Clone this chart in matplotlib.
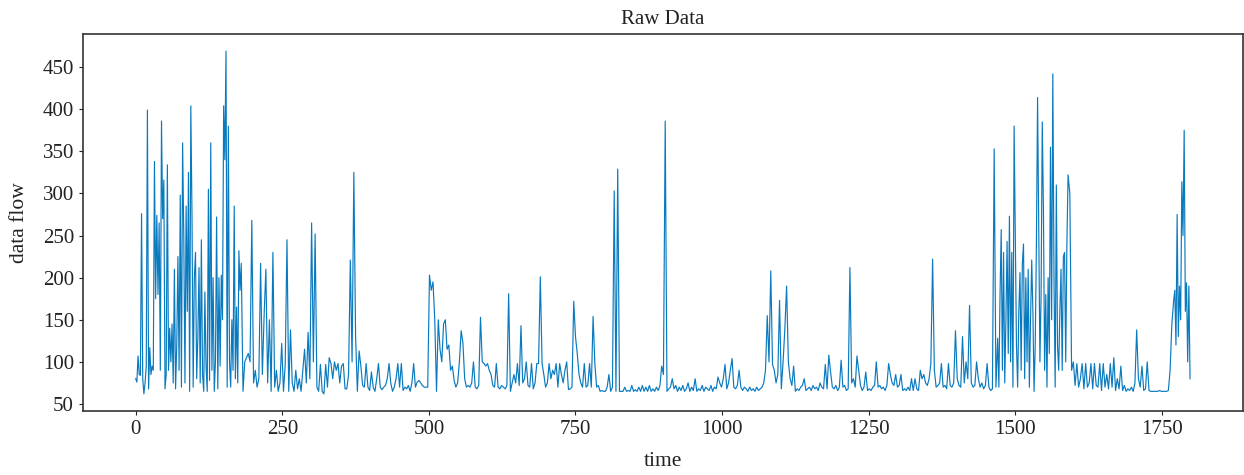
import numpy as np
import matplotlib
matplotlib.use("Agg")
import matplotlib.pyplot as plt

# data flow; denser sampling where the signal is busy
flow_early = [   # t = 0 .. 178, every 2
    80, 76, 107, 85, 84, 276, 80, 62, 75, 95,
    399, 68, 117, 85, 95, 90, 338, 175, 274, 180,
    265, 90, 386, 270, 316, 68, 85, 334, 90, 140,
    100, 145, 75, 210, 68, 120, 225, 90, 298, 70,
    360, 250, 75, 285, 160, 325, 65, 404, 275, 70,
    200, 230, 80, 130, 212, 75, 245, 85, 65, 183,
    95, 65, 305, 78, 360, 90, 200, 65, 100, 272,
    68, 200, 95, 203, 150, 404, 340, 469, 70, 380,
    100, 70, 150, 90, 285, 80, 165, 75, 232, 185,
]
flow_mid = [     # t = 180 .. 1467, every 3
    217, 65, 100, 105, 110, 100, 268, 75, 90, 70,
    80, 217, 85, 155, 210, 75, 150, 65, 230, 70,
    90, 65, 75, 122, 65, 97, 245, 65, 138, 75,
    65, 90, 68, 80, 65, 90, 115, 75, 135, 80,
    265, 100, 252, 70, 65, 97, 65, 62, 97, 70,
    105, 98, 80, 100, 90, 98, 75, 95, 98, 68,
    68, 85, 221, 100, 325, 130, 65, 113, 95, 72,
    70, 98, 70, 66, 88, 70, 65, 80, 98, 70,
    67, 70, 72, 80, 98, 75, 65, 70, 80, 98,
    70, 98, 66, 70, 68, 72, 65, 75, 98, 70,
    76, 78, 75, 72, 70, 70, 70, 203, 185, 195,
    150, 65, 150, 115, 100, 145, 150, 115, 120, 90,
    95, 78, 70, 75, 100, 137, 123, 80, 70, 72,
    70, 75, 100, 70, 68, 72, 153, 100, 98, 95,
    98, 90, 85, 72, 70, 98, 70, 68, 72, 70,
    68, 72, 181, 65, 75, 85, 75, 98, 72, 143,
    75, 80, 100, 72, 70, 98, 68, 75, 98, 98,
    201, 98, 85, 70, 75, 98, 80, 90, 85, 98,
    70, 98, 85, 75, 90, 100, 67, 68, 70, 172,
    130, 110, 85, 75, 70, 98, 70, 72, 98, 70,
    154, 98, 70, 72, 65, 66, 65, 65, 70, 85,
    65, 70, 303, 65, 329, 65, 65, 65, 70, 65,
    66, 65, 72, 65, 67, 65, 70, 65, 72, 65,
    70, 65, 72, 65, 68, 65, 70, 66, 72, 95,
    85, 386, 65, 68, 70, 80, 68, 72, 65, 70,
    66, 72, 65, 68, 75, 65, 70, 66, 80, 65,
    68, 66, 72, 65, 70, 68, 66, 72, 65, 70,
    68, 82, 75, 70, 80, 97, 68, 75, 90, 104,
    70, 68, 72, 90, 70, 66, 70, 68, 65, 70,
    66, 68, 65, 70, 66, 68, 70, 75, 90, 155,
    100, 208, 97, 90, 75, 85, 173, 68, 100, 139,
    190, 100, 80, 72, 95, 65, 68, 66, 70, 72,
    80, 66, 68, 70, 66, 72, 68, 70, 66, 75,
    70, 68, 97, 68, 108, 88, 70, 68, 72, 66,
    70, 102, 70, 72, 66, 68, 212, 75, 80, 70,
    107, 90, 72, 66, 70, 88, 66, 68, 66, 70,
    72, 100, 70, 72, 68, 70, 66, 72, 98, 85,
    75, 72, 85, 70, 72, 85, 66, 68, 66, 70,
    66, 80, 66, 80, 68, 66, 90, 80, 85, 75,
    72, 80, 98, 222, 90, 70, 72, 75, 98, 70,
    72, 68, 98, 72, 70, 75, 137, 80, 72, 70,
    130, 75, 100, 80, 167, 75, 70, 72, 100, 80,
    70, 75, 68, 72, 98, 70, 66, 68, 353, 70,
]
flow_burst = [   # t = 1470 .. 1588, every 2
    128, 70, 180, 257, 90, 230, 75, 150, 243, 110,
    273, 100, 230, 70, 380, 249, 120, 70, 160, 206,
    90, 216, 240, 80, 200, 100, 210, 70, 150, 221,
    160, 65, 120, 240, 414, 250, 100, 180, 385, 280,
    90, 180, 70, 200, 110, 355, 150, 442, 200, 70,
    310, 120, 90, 160, 210, 90, 225, 230, 100, 240,
]
flow_quiet = [   # t = 1590 .. 1767, every 3
    322, 300, 90, 100, 72, 98, 70, 80, 98, 68,
    98, 70, 75, 98, 68, 98, 72, 70, 98, 66,
    98, 70, 85, 68, 98, 70, 105, 66, 80, 68,
    95, 66, 72, 65, 68, 66, 70, 65, 75, 138,
    80, 70, 95, 66, 68, 100, 66, 65, 65, 65,
    65, 65, 66, 65, 65, 65, 65, 66, 90, 145,
]
flow_end = [     # t = 1770 .. 1798, every 2
    172, 185, 120, 275, 130, 190, 150, 314, 250, 375,
    160, 194, 100, 190, 80,
]
segments = [(0, 2, flow_early), (180, 3, flow_mid), (1470, 2, flow_burst),
            (1590, 3, flow_quiet), (1770, 2, flow_end)]
time = np.concatenate([start + step * np.arange(len(v)) for start, step, v in segments])
flow = np.concatenate([v for _, _, v in segments])

title = "Raw Data"
xlabel = "time"
ylabel = "data flow"

plt.rcParams["font.family"] = ["Liberation Serif", "DejaVu Serif"]

fig = plt.figure(figsize=(12.44, 4.75), dpi=100)
ax = fig.add_axes([0.0667, 0.1347, 0.9323, 0.7937])
ax.plot(time, flow, color="#0a7abf", linewidth=0.85)

ax.set_title(title, fontsize=15, color="#222222", pad=7)
ax.set_xlabel(xlabel, fontsize=15.5, color="#222222", labelpad=9)
ax.set_ylabel(ylabel, fontsize=15.5, color="#222222", labelpad=10)

ax.set_xticks([0, 250, 500, 750, 1000, 1250, 1500, 1750])
ax.set_yticks([50, 100, 150, 200, 250, 300, 350, 400, 450])
ax.tick_params(axis="both", labelsize=15, colors="#222222", length=3, width=0.8)
for s in ax.spines.values():
    s.set_color("#333333")
    s.set_linewidth(1.2)

fig.savefig("out.png", dpi=100)
